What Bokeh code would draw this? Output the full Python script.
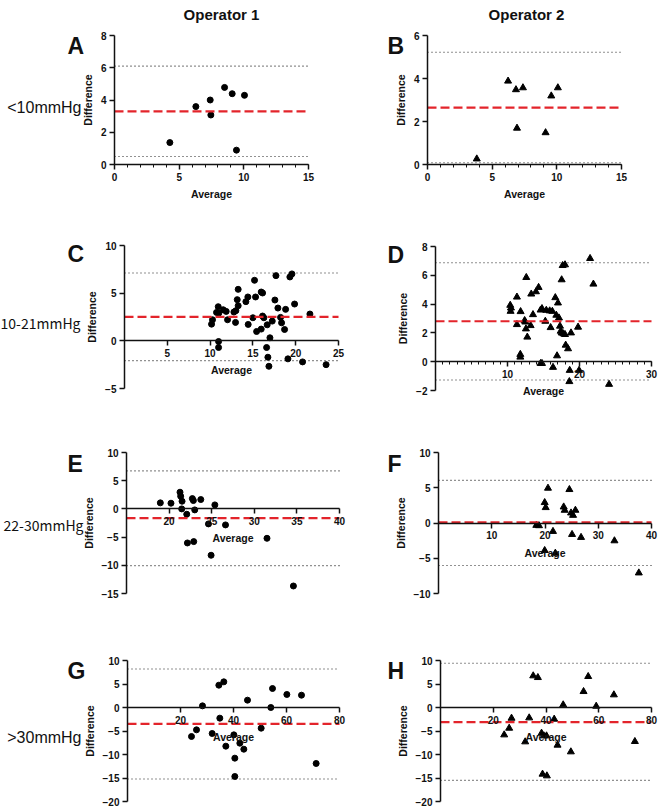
from bokeh.plotting import figure
from bokeh.layouts import column, row
from bokeh.models import Range1d, FixedTicker, Label
from bokeh.embed import file_html
from bokeh.resources import INLINE

# ---------------- data ----------------
col_titles = ["Operator 1", "Operator 2"]
row_labels = ["<10mmHg", "10-21mmHg", "22-30mmHg", ">30mmHg"]
letters = ["A", "B", "C", "D", "E", "F", "G", "H"]

a_avg = [4.28, 6.29, 7.40, 7.45, 8.51, 9.10, 10.05, 9.43]
a_diff = [1.36, 3.59, 4.00, 3.07, 4.78, 4.39, 4.29, 0.89]
a_lines = [3.30, 0.50, 6.10]   # bias, lower, upper

b_avg = [3.81, 6.23, 6.84, 7.38, 6.92, 9.13, 9.57, 10.08]
b_diff = [0.26, 3.88, 3.48, 3.57, 1.69, 1.48, 3.19, 3.57]
b_lines = [2.65, 0.08, 5.22]

c_avg = [10.17, 10.28, 10.75, 10.95, 11.02, 10.99, 10.99, 11.53, 11.88, 12.04,
         12.78, 12.97, 13.01, 13.17, 13.28, 13.28, 14.18, 14.41, 14.45, 15.00,
         15.19, 15.31, 15.43, 15.97, 16.13, 16.13, 16.28, 15.97, 16.60, 16.67,
         16.99, 16.75, 16.87, 17.26, 17.57, 17.69, 17.92, 18.23, 18.35, 18.70,
         18.82, 19.09, 19.32, 19.56, 19.87, 20.80, 21.66, 23.55]
c_diff = [1.75, 2.21, 2.98, 3.58, 2.91, -0.07, -0.70, 3.26, 3.09, 2.21,
          3.02, 1.93, 3.16, 4.32, 3.68, 5.40, 4.11, 4.60, 1.72, 2.42,
          6.35, 4.60, 0.98, 5.12, 5.02, 2.60, 2.42, 1.23, -0.70, 1.68,
          0.32, -1.72, -2.67, 2.07, 4.28, 6.84, 3.44, 2.46, 1.89, 1.19,
          3.30, -1.89, 6.70, 7.02, 3.86, -2.21, 2.81, -2.50]
c_lines = [2.52, -2.08, 7.12]

d_avg = [10.38, 10.48, 10.43, 11.31, 11.31, 11.82, 11.78, 11.78, 12.38, 12.47,
         12.56, 12.61, 12.75, 13.21, 13.30, 13.54, 13.95, 14.32, 14.60, 14.79,
         14.60, 14.79, 15.25, 15.39, 15.86, 15.99, 16.32, 16.23, 16.64, 16.78,
         17.01, 16.88, 17.15, 17.29, 17.52, 17.39, 17.52, 17.76, 17.66, 17.99,
         17.99, 18.08, 18.41, 18.64, 18.59, 18.82, 19.80, 19.94, 21.47, 21.93,
         24.11]
d_diff = [3.92, 3.73, 3.50, 4.49, 2.58, 3.48, 0.51, 0.32, 2.86, 2.76,
          2.28, 5.85, 1.71, 2.51, 4.70, 3.27, 4.86, 5.16, 3.59, 3.69,
          -0.12, -0.12, 2.81, 3.57, 3.53, 2.37, -0.39, 3.50, 4.45, 3.23,
          4.08, 0.41, 3.04, 2.47, 5.69, 2.12, 2.00, 1.94, 6.68, 6.73,
          1.89, 1.15, 0.90, -0.60, -1.38, 2.00, 2.40, -0.60, 7.17, 5.39,
          -1.57]
d_lines = [2.81, -1.27, 6.87]

e_avg = [18.97, 20.22, 21.28, 21.36, 21.52, 21.48, 22.07, 22.15, 22.73, 22.85,
         23.01, 22.89, 23.72, 24.62, 24.93, 25.37, 26.62, 31.49, 34.59]
e_diff = [1.07, 1.01, 2.96, 2.25, 1.36, 0.00, -0.95, -6.04, 1.83, 1.48,
          -0.18, -5.80, 1.66, -2.66, -8.22, 0.71, -2.84, -5.21, -13.67]
e_lines = [-1.65, -10.06, 6.74]

f_avg = [18.37, 18.87, 19.94, 20.13, 20.56, 19.94, 21.50, 21.94, 23.51, 23.70,
         24.58, 24.89, 25.27, 25.71, 25.08, 26.77, 33.04, 37.62]
f_diff = [-0.33, -0.38, 2.90, 2.19, 4.94, -3.90, -1.19, -4.28, 2.28, 1.81,
          4.75, 1.43, 1.09, 1.81, -1.62, -2.04, -2.52, -7.08]
f_lines = [0.08, -6.03, 6.05]

g_avg = [24.15, 26.04, 28.30, 31.95, 34.47, 34.84, 36.35, 37.11, 40.13, 40.50,
         40.50, 42.39, 43.90, 45.28, 50.44, 54.09, 54.72, 60.13, 65.66, 71.19]
g_diff = [-6.17, -4.75, 0.35, -5.53, 4.75, -2.27, 5.46, -8.23, -5.82, -10.78,
          -14.68, -7.59, -8.87, 1.56, -4.40, 0.00, 4.04, 2.77, 2.62, -11.91]
g_lines = [-3.47, -15.20, 8.20]

h_avg = [24.15, 26.04, 26.93, 32.11, 33.63, 35.15, 36.92, 38.31, 39.20, 40.20,
         38.69, 40.33, 43.11, 44.37, 46.52, 49.43, 54.24, 56.00, 59.04, 65.74,
         73.70]
h_diff = [-5.82, -4.40, -2.27, -7.30, -2.20, 6.74, 6.38, -5.46, -6.03, -6.03,
          -14.18, -14.54, -2.48, -8.01, 0.57, -9.43, 3.40, 6.60, 0.28, 2.70,
          -7.23]
h_lines = [-3.10, -15.50, 9.40]

# axis ranges and ticks
a_x = [0, 15]; a_y = [0, 8]
b_x = [0, 15]; b_y = [0, 6]
c_x = [0, 25]; c_y = [-5, 10]
d_x = [0, 30]; d_y = [-2, 8]
e_x = [15, 40]; e_y = [-15, 10]
f_x = [0, 40]; f_y = [-10, 10]
g_x = [0, 80]; g_y = [-20, 10]
h_x = [0, 80]; h_y = [-20, 10]

a_xt = [0, 5, 10, 15]; a_xm = list(range(0, 16)); a_yt = [0, 2, 4, 6, 8]
b_xt = [0, 5, 10, 15]; b_xm = list(range(0, 16)); b_yt = [0, 2, 4, 6]
c_xt = [5, 10, 15, 20, 25]; c_xm = []; c_yt = [-5, 0, 5, 10]
d_xt = [10, 20, 30]; d_xm = list(range(0, 31)); d_yt = [-2, 0, 2, 4, 6, 8]
e_xt = [20, 25, 30, 35, 40]; e_xm = []; e_yt = [-15, -10, -5, 0, 5, 10]
f_xt = [10, 20, 30, 40]; f_xm = []; f_yt = [-10, -5, 0, 5, 10]
g_xt = [20, 40, 60, 80]; g_xm = []; g_yt = [-20, -15, -10, -5, 0, 5, 10]
h_xt = [20, 40, 60, 80]; h_xm = []; h_yt = [-20, -15, -10, -5, 0, 5, 10]

# ---------------- layout geometry (canvas px) ----------------
COL_X = [0, 350]
COL_W = [350, 308]
ROW_Y = [0, 200, 410, 610]
ROW_H = [200, 210, 200, 196]

FONT = "Liberation Sans"
RED = "#e3242b"
INK = "#111111"


def panel(ci, ri, frame_l, frame_r, frame_t, frame_b, avg, diff, lines,
          xr, yr, xt, xm, yt, marker, x_axis_at):
    cx0, cw = COL_X[ci], COL_W[ci]
    ry0, rh = ROW_Y[ri], ROW_H[ri]
    kx = (frame_r - frame_l) / (xr[1] - xr[0])
    ky = (frame_b - frame_t) / (yr[1] - yr[0])
    x_start = xr[0] - (frame_l - cx0) / kx
    x_end = xr[1] + (cx0 + cw - frame_r) / kx
    y_end = yr[1] + (frame_t - ry0) / ky
    y_start = yr[0] - (ry0 + rh - frame_b) / ky
    p = figure(width=cw, height=rh, output_backend="svg",
               toolbar_location=None, title=None,
               x_range=Range1d(x_start, x_end), y_range=Range1d(y_start, y_end),
               min_border=0, min_border_left=0, min_border_right=0,
               min_border_top=0, min_border_bottom=0)
    p.outline_line_color = None
    p.grid.visible = False
    p.background_fill_color = "white"
    p.border_fill_color = "white"

    bias, lo, hi = lines
    p.segment(x0=[xr[0], xr[0]], x1=[xr[1], xr[1]], y0=[lo, hi], y1=[lo, hi],
              line_color="#222222", line_width=1.1, line_dash="1 3")

    if marker == "circle":
        p.scatter(avg, diff, marker="circle", size=6, fill_color="black",
                  line_color="black")
    else:
        p.scatter(avg, diff, marker="triangle", size=7, fill_color="black",
                  line_color="black")

    p.segment(x0=[xr[0]], x1=[xr[1]], y0=[bias], y1=[bias], line_color=RED,
              line_width=2.2, line_dash="9 4")

    p.xaxis.ticker = FixedTicker(ticks=xt, minor_ticks=xm)
    p.yaxis.ticker = FixedTicker(ticks=yt)
    p.xaxis.fixed_location = x_axis_at
    p.yaxis.fixed_location = xr[0]
    p.xaxis.bounds = (xr[0], xr[1])
    p.yaxis.bounds = (yr[0], yr[1])
    p.xaxis.axis_label = "Average"
    p.yaxis.axis_label = "Difference"
    for ax in (p.xaxis, p.yaxis):
        ax.axis_line_color = INK
        ax.axis_line_width = 1.5
        ax.major_tick_line_color = INK
        ax.major_tick_line_width = 1.5
        ax.major_tick_out = 5
        ax.major_tick_in = 0
        ax.minor_tick_line_color = INK
        ax.minor_tick_line_width = 1
        ax.minor_tick_out = 3
        ax.minor_tick_in = 0
        ax.major_label_text_font = FONT
        ax.major_label_text_font_style = "bold"
        ax.major_label_text_font_size = "10px"
        ax.major_label_text_color = INK
        ax.axis_label_text_font = FONT
        ax.axis_label_text_font_style = "bold"
        ax.axis_label_text_font_size = "10.5px"
        ax.axis_label_text_color = INK
    p.yaxis.minor_tick_line_color = None
    p.yaxis.major_label_standoff = 3
    p.yaxis.axis_label_standoff = 4
    p.xaxis.major_label_standoff = 3
    p.xaxis.axis_label_standoff = 4
    return p, (cx0, ry0 + rh)


def add_text(p, origin, cx, cy, text, size, font=FONT, style="bold",
             align="left"):
    ox, ob = origin
    p.add_layout(Label(x=cx - ox, y=ob - cy, x_units="screen", y_units="screen",
                       text=text, text_font=font, text_font_style=style,
                       text_font_size=size, text_align=align,
                       text_baseline="alphabetic", text_color=INK))


pA, oA = panel(0, 0, 114, 308, 35, 164, a_avg, a_diff, a_lines, a_x, a_y,
               a_xt, a_xm, a_yt, "circle", a_y[0])
pB, oB = panel(1, 0, 427, 621, 35, 164, b_avg, b_diff, b_lines, b_x, b_y,
               b_xt, b_xm, b_yt, "triangle", b_y[0])
pC, oC = panel(0, 1, 124, 338, 245, 388, c_avg, c_diff, c_lines, c_x, c_y,
               c_xt, c_xm, c_yt, "circle", 0)
pD, oD = panel(1, 1, 435, 651, 246, 390, d_avg, d_diff, d_lines, d_x, d_y,
               d_xt, d_xm, d_yt, "triangle", 0)
pE, oE = panel(0, 2, 126, 339, 452, 593, e_avg, e_diff, e_lines, e_x, e_y,
               e_xt, e_xm, e_yt, "circle", 0)
pF, oF = panel(1, 2, 438, 651, 452, 593, f_avg, f_diff, f_lines, f_x, f_y,
               f_xt, f_xm, f_yt, "triangle", 0)
pG, oG = panel(0, 3, 127, 339, 660, 801, g_avg, g_diff, g_lines, g_x, g_y,
               g_xt, g_xm, g_yt, "circle", 0)
pH, oH = panel(1, 3, 440, 651, 660, 801, h_avg, h_diff, h_lines, h_x, h_y,
               h_xt, h_xm, h_yt, "triangle", 0)

# column titles
add_text(pA, oA, 221, 14, col_titles[0], "15px", align="center")
add_text(pB, oB, 526, 14, col_titles[1], "15px", align="center")

# panel letters
figs = [(pA, oA), (pB, oB), (pC, oC), (pD, oD), (pE, oE), (pF, oF), (pG, oG), (pH, oH)]
letter_base = [45, 45, 253, 254, 463, 463, 670, 670]
letter_x = [67, 387, 67, 387, 67, 387, 67, 387]
for (p, o), t, lx, ly in zip(figs, letters, letter_x, letter_base):
    add_text(p, o, lx, ly, t, "23px")

# row labels
add_text(pA, oA, 81, 107, row_labels[0], "16px", style="normal", align="right")
add_text(pC, oC, 80, 322, row_labels[1], "14px", font="Noto Sans CJK JP",
         style="normal", align="right")
add_text(pE, oE, 83, 524, row_labels[2], "14px", font="Noto Sans CJK JP",
         style="normal", align="right")
add_text(pG, oG, 81, 737, row_labels[3], "16px", style="normal", align="right")

layout = column(row(pA, pB), row(pC, pD), row(pE, pF), row(pG, pH))
open("out.html", "w").write(file_html(layout, INLINE))
